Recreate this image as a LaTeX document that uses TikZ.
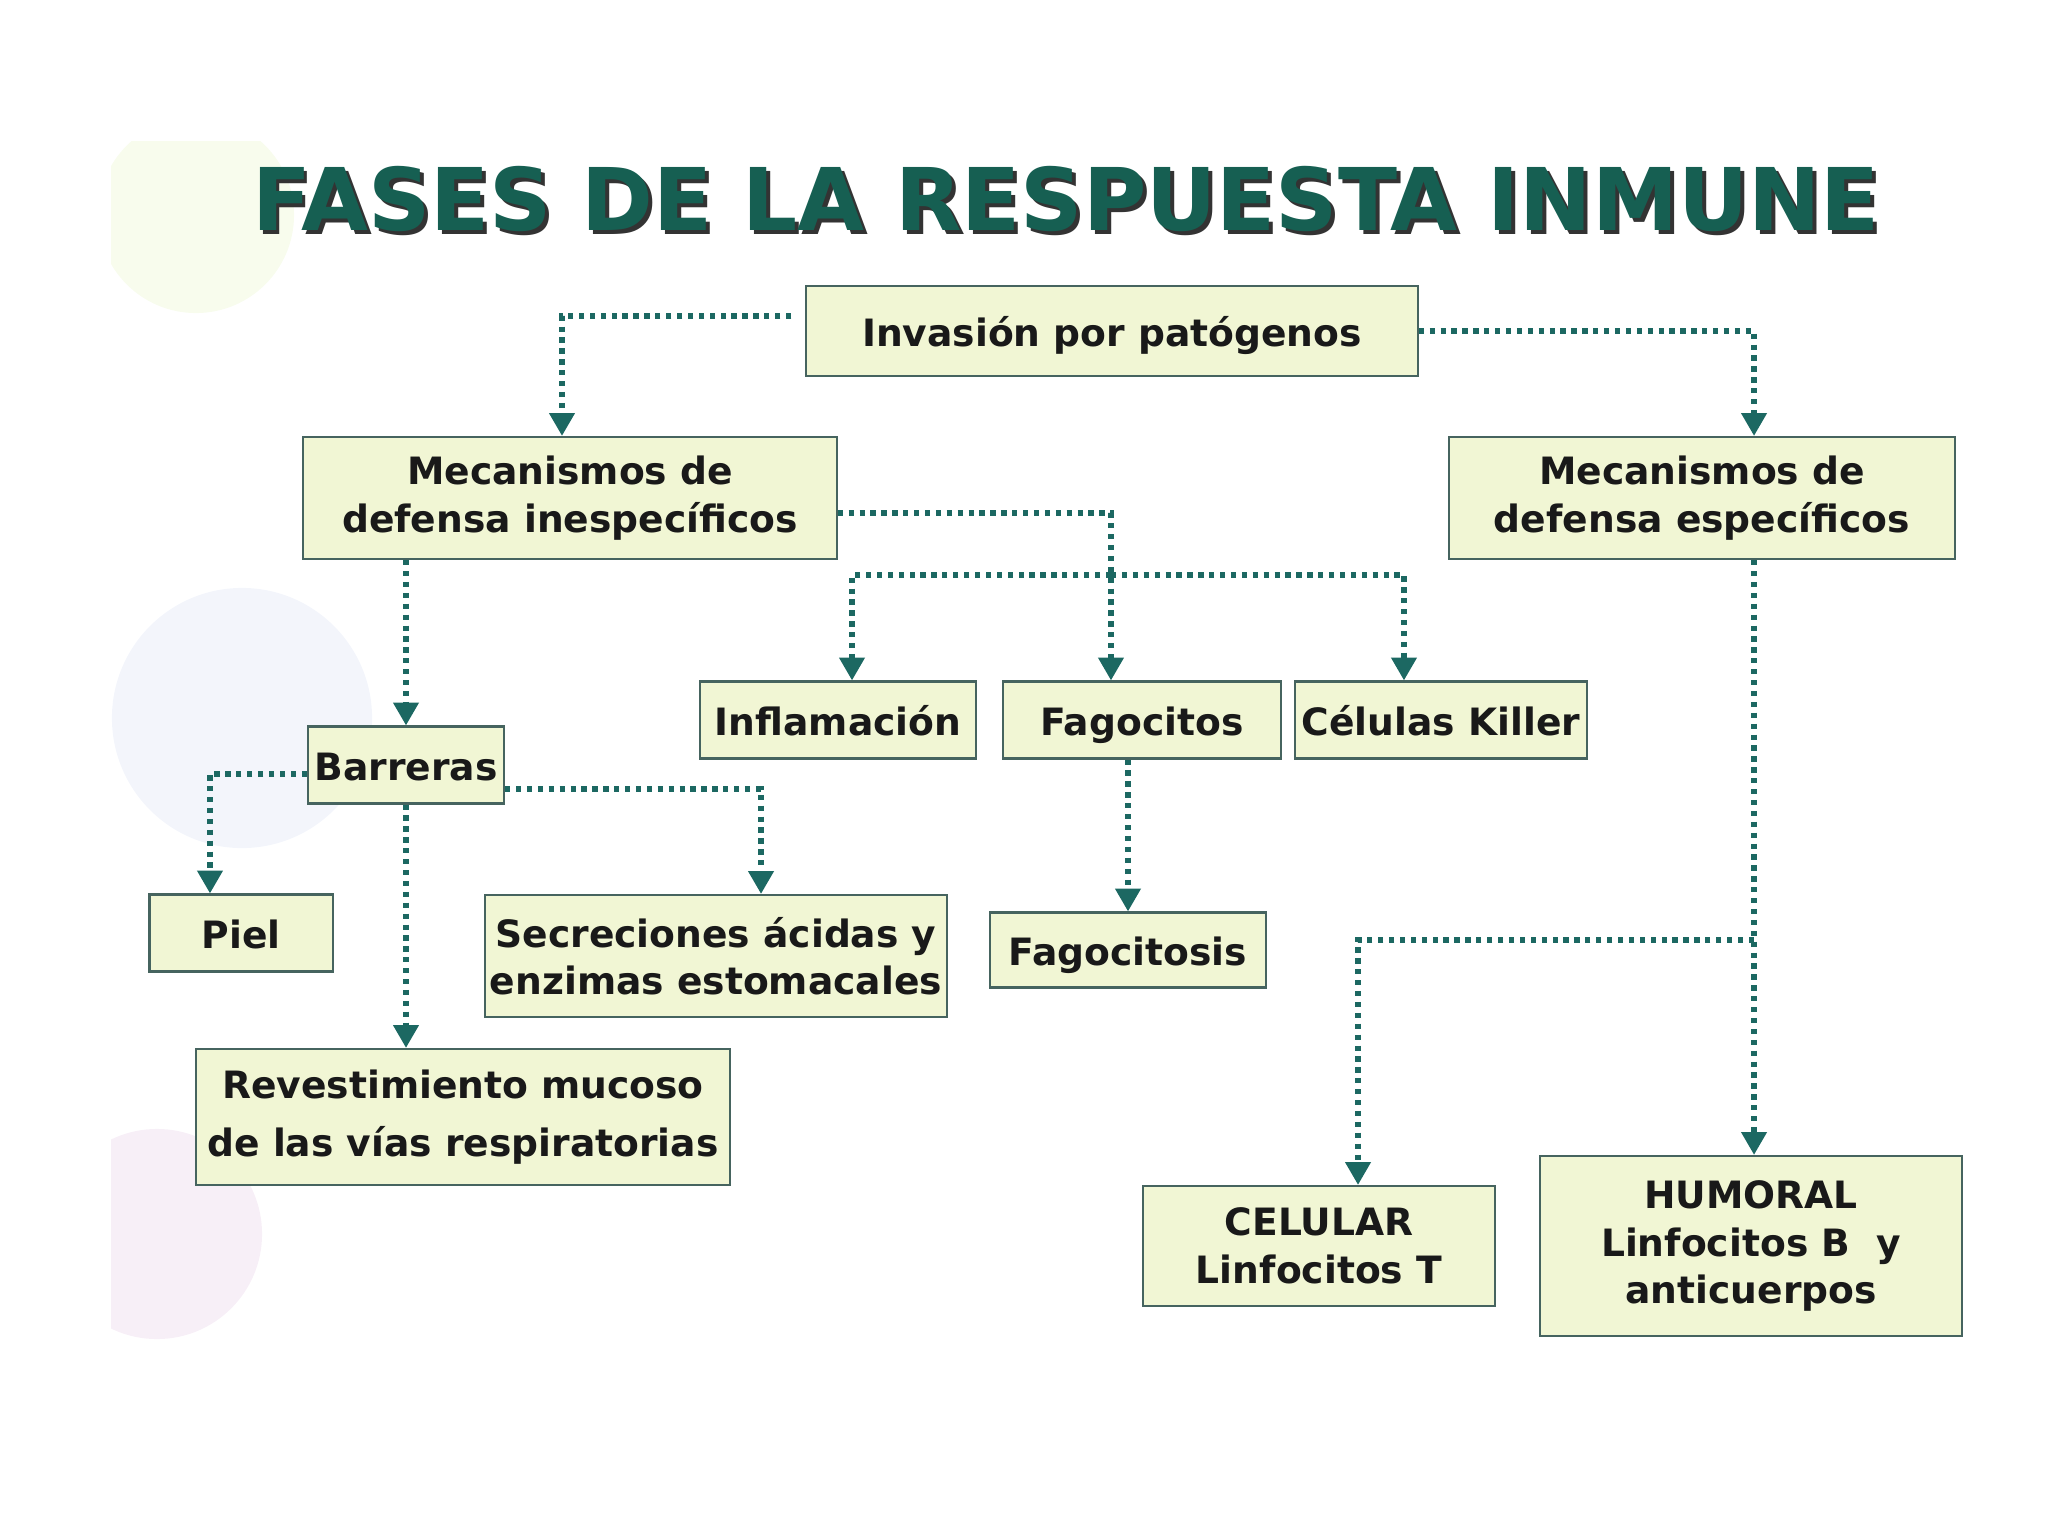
\documentclass[tikz,border=0pt]{standalone}
\usepackage{fontspec}
\setmainfont{DejaVu Sans}
\usetikzlibrary{arrows.meta}
\definecolor{boxfill}{RGB}{241,246,212}
\definecolor{boxline}{RGB}{70,100,95}
\definecolor{linkcol}{RGB}{28,104,98}
\definecolor{titlecol}{RGB}{22,95,82}

\begin{document}
\begin{tikzpicture}[x=0.01cm, y=-0.01cm,
    box/.style={draw=boxline, line width=0.6pt, fill=boxfill, inner sep=0pt, align=center,
      font=\fontsize{10.7}{13.5}\selectfont\bfseries, text=black!90},
    oneline/.style={box, text height=2.1ex, text depth=0.5ex},
    heading/.style={font=\fontsize{24.6}{28}\selectfont\bfseries},
    link/.style={linkcol, line width=1.5pt, dash pattern=on 1.5pt off 1.6pt,
      -{Triangle[width=7pt,length=6.5pt]}}]
  \useasboundingbox (0,0) rectangle (2048,1536);
  \begin{scope}
    \clip (111,141) rectangle (2048,1374);
    \fill[yellow!60!green!40, opacity=0.18] (196,215) circle (0.98cm);
    \fill[cyan!40!blue!25, opacity=0.18] (242,718) circle (1.3cm);
    \fill[violet!35, opacity=0.18] (157,1234) circle (1.05cm);
  \end{scope}
  \node[heading, text=black!80] (shadow) at (1070,203) {FASES DE LA RESPUESTA INMUNE};
  \node[heading, text=titlecol] (title) at (1066,199) {FASES DE LA RESPUESTA INMUNE};

  \node[oneline, minimum width=6.11cm, minimum height=0.90cm] (inv) at (1112,331) {Invasión por patógenos};
  \node[box, minimum width=5.33cm, minimum height=1.22cm] (inesp) at (570,498) {Mecanismos de\\defensa inespecíficos};
  \node[box, minimum width=5.05cm, minimum height=1.22cm] (esp) at (1702,498) {Mecanismos de\\defensa específicos};
  \node[oneline, minimum width=2.76cm, minimum height=0.77cm] (infl) at (838,720) {Inflamación};
  \node[oneline, minimum width=2.77cm, minimum height=0.77cm] (fago) at (1142,720) {Fagocitos};
  \node[oneline, minimum width=2.91cm, minimum height=0.77cm] (killer) at (1441,720) {Células Killer};
  \node[oneline, minimum width=1.96cm, minimum height=0.77cm] (barr) at (406,765) {Barreras};
  \node[oneline, minimum width=1.83cm, minimum height=0.77cm] (piel) at (241,933) {Piel};
  \node[box, minimum width=4.62cm, minimum height=1.22cm] (secr) at (716,956) {Secreciones ácidas y\\enzimas estomacales};
  \node[oneline, minimum width=2.75cm, minimum height=0.75cm] (fagosis) at (1128,950) {Fagocitosis};
  \node[box, minimum width=5.33cm, minimum height=1.36cm] (reves) at (463,1117) {Revestimiento mucoso\\[3pt]de las vías respiratorias};
  \node[box, minimum width=3.51cm, minimum height=1.20cm] (cel) at (1319,1246) {CELULAR\\Linfocitos T};
  \node[box, minimum width=4.21cm, minimum height=1.80cm] (hum) at (1751,1246) {HUMORAL\\Linfocitos B\ \ y\\anticuerpos};

  \coordinate (split) at (1111,575);
  \coordinate (split2) at (1754,940);
  \draw[link] ([xshift=-1.4mm,yshift=1.5mm]inv.west) -| ([xshift=-0.8mm]inesp.north);
  \draw[link] (inv.east) -| ([xshift=5.2mm]esp.north);
  \draw[link] ([yshift=-1.5mm]inesp.east) -| ([xshift=-3.1mm]fago.north);
  \draw[link] (split) -| ([xshift=1.4mm]infl.north);
  \draw[link] (split) -| ([xshift=-3.7mm]killer.north);
  \draw[link] (barr.north |- inesp.south) -- (barr.north);
  \draw[link] ([yshift=-0.9mm]barr.west) -| ([xshift=-3.1mm]piel.north);
  \draw[link] ([yshift=-2.4mm]barr.east) -| ([xshift=4.5mm]secr.north);
  \draw[link] (barr.south) -- (barr.south |- reves.north);
  \draw[link] (fagosis.north |- fago.south) -- (fagosis.north);
  \draw[link] ([xshift=5.2mm]esp.south) -- ([xshift=5.2mm]esp.south |- hum.north);
  \draw[link] (split2) -| ([xshift=3.9mm]cel.north);
\end{tikzpicture}
\end{document}
